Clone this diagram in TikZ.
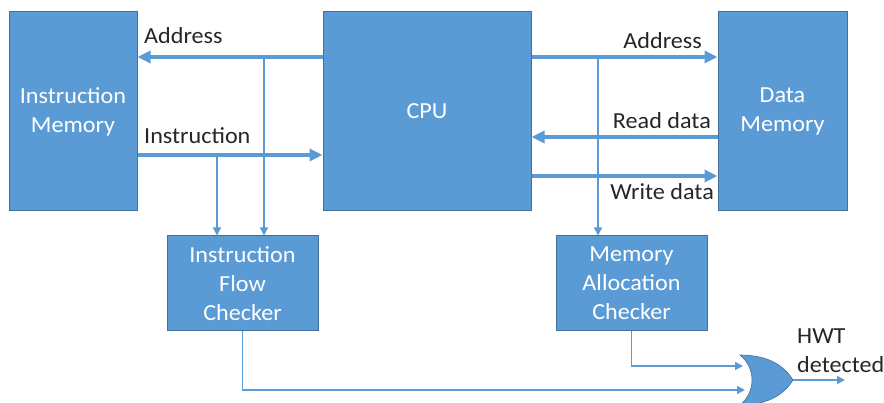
\documentclass[tikz,border=0pt]{standalone}
\usepackage{fontspec}
\setmainfont{Carlito}[FakeStretch=1.05]
\usetikzlibrary{arrows.meta}
\definecolor{boxblue}{HTML}{5B9BD5}
\definecolor{boxedge}{HTML}{41719C}
\definecolor{lineblue}{HTML}{5B9BD5}
\definecolor{labeltext}{HTML}{262626}
\begin{document}
\begin{tikzpicture}[x=1pt,y=1pt,
  every node/.style={font=\fontsize{23}{29}\selectfont},
  blk/.style={draw=boxedge,line width=1pt,fill=boxblue,text=white,align=center,inner sep=0pt},
  bus/.style={draw=lineblue,line width=3.5pt,-{Triangle[length=13pt,width=12pt]}},
  wire/.style={draw=lineblue,line width=1.5pt},
  wirearrow/.style={wire,-{Triangle[length=8pt,width=8pt]}},
  lbl/.style={text=labeltext,inner sep=0pt}]
\useasboundingbox (0,0) rectangle (884,402);
\clip (0,0) rectangle (884,402);
% blocks
\node[blk,minimum width=128pt,minimum height=199pt] (im) at (73,290.5) {Instruction\\Memory};
\node[blk,minimum width=208pt,minimum height=199pt] (cpu) at (427,290.5) {CPU};
\node[blk,minimum width=129pt,minimum height=199pt] (dm) at (782.5,290.5) {Data\\Memory};
\node[blk,minimum width=151pt,minimum height=95pt] (ifc) at (242.5,118.5) {Instruction\\Flow\\Checker};
\node[blk,minimum width=151pt,minimum height=95pt] (mac) at (631.5,118.5) {Memory\\Allocation\\Checker};
% bus taps
\coordinate (tapA) at (264,345);
\coordinate (tapI) at (217,247);
\coordinate (tapD) at (598,345);
% buses
\draw[bus] (cpu.west |- 0,345) -- (im.east |- 0,345);
\draw[bus] (im.east |- 0,247) -- (cpu.west |- 0,247);
\draw[bus] (cpu.east |- 0,345) -- (dm.west |- 0,345);
\draw[bus] (dm.west |- 0,265) -- (cpu.east |- 0,265);
\draw[bus] (cpu.east |- 0,226) -- (dm.west |- 0,226);
% labels
\node[lbl,anchor=base west] (la) at (144,358) {Address};
\node[lbl,anchor=base west] (li) at (144,258) {Instruction};
\node[lbl,anchor=base east] (ra) at (702,353) {Address};
\node[lbl,anchor=base east] (rd) at (711,273) {Read data};
\node[lbl,anchor=base east] (wd) at (714,202) {Write data};
% taps to checkers
\draw[wirearrow] (tapI) -- (tapI |- ifc.north);
\draw[wirearrow] (tapA) -- (tapA |- ifc.north);
\draw[wirearrow] (tapD) -- (tapD |- mac.north);
% OR gate
\coordinate (g1) at (743,36);
\coordinate (g2) at (745,12);
\coordinate (gout) at (793,22);
\coordinate (hwt) at (845,22);
\draw[draw=boxedge,line width=0.6pt,fill=boxblue]
  (740,47) .. controls (770,47) and (785,35) .. (gout)
  .. controls (785,9) and (770,-3) .. (740,-3)
  .. controls (756,10) and (756,34) .. cycle;
% checker outputs
\draw[wirearrow] (mac.south) |- (g1);
\draw[wirearrow] (ifc.south) |- (g2);
\draw[wirearrow] (gout) -- (hwt);
\node[lbl,anchor=west,align=left] (hwtl) at (797,51) {HWT\\detected};
\end{tikzpicture}
\end{document}
